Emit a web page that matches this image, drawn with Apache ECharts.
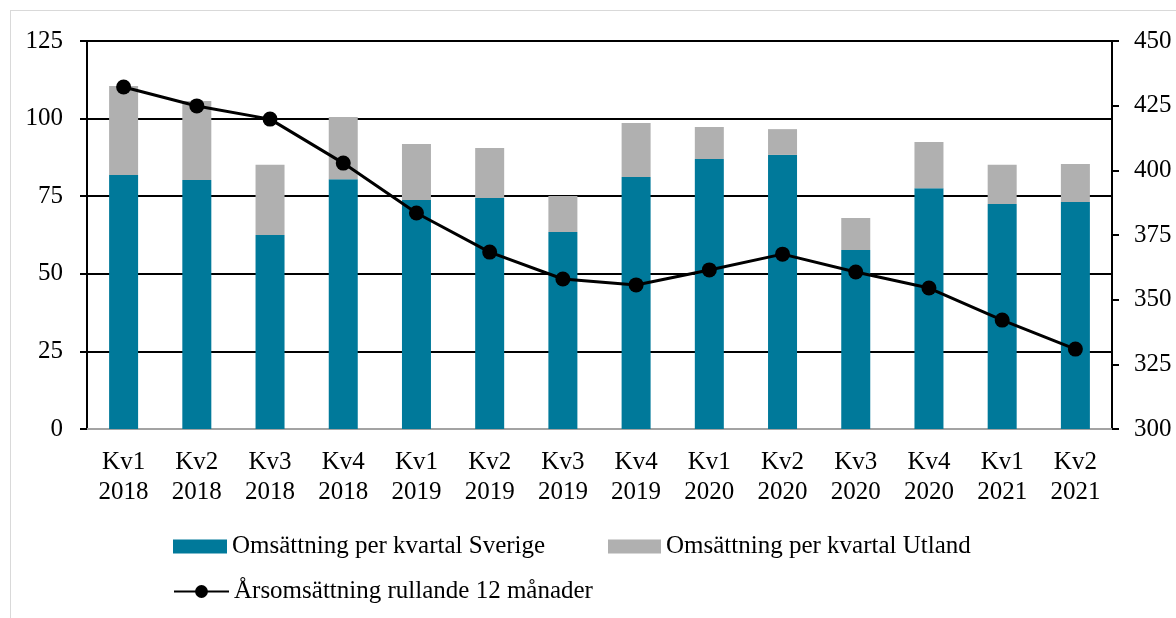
<!DOCTYPE html>
<html><head><meta charset="utf-8">
<script src="https://cdn.jsdelivr.net/npm/echarts@6/dist/echarts.min.js"></script>
<style>html,body{margin:0;padding:0;background:#fff}#c{width:1176px;height:618px}
#frame{position:absolute;left:10px;top:10px;width:1170px;height:620px;border:1.5px solid #d9d9d9;box-sizing:border-box;pointer-events:none}</style>
</head><body><div id="c"></div><div id="frame"></div>
<script>
const categories = ['Kv1\n2018','Kv2\n2018','Kv3\n2018','Kv4\n2018','Kv1\n2019','Kv2\n2019','Kv3\n2019','Kv4\n2019','Kv1\n2020','Kv2\n2020','Kv3\n2020','Kv4\n2020','Kv1\n2021','Kv2\n2021'];
const sverige = [81.8, 80.2, 62.5, 80.5, 73.8, 74.4, 63.5, 81.2, 87.0, 88.3, 57.7, 77.6, 72.5, 73.1];
const utland  = [28.7, 25.5, 22.6, 20.0, 18.0, 16.1, 11.6, 17.4, 10.3, 8.3, 10.3, 14.9, 12.6, 12.3];
const rullande = [432.2, 424.9, 419.8, 402.8, 383.5, 368.4, 358.0, 355.7, 361.5, 367.6, 360.7, 354.5, 342.1, 330.9];
const names = ['Omsättning per kvartal Sverige','Omsättning per kvartal Utland','Årsomsättning rullande 12 månader'];

const FONT = '"Liberation Serif", "DejaVu Serif", serif';
const FS = 25;
const chart = echarts.init(document.getElementById('c'));
const legTxt = {fontFamily: FONT, fontSize: FS, color: '#000'};
chart.setOption({
  animation: false,
  textStyle: {fontFamily: FONT},
  grid: {left: 87, right: 64, top: 41, bottom: 189},
  legend: [
    {data: [{name: names[0], icon: 'rect'}], left: 173, top: 534, itemWidth: 54, itemHeight: 14, textStyle: legTxt, padding: 0},
    {data: [{name: names[1], icon: 'rect'}], left: 608, top: 534, itemWidth: 53, itemHeight: 14, textStyle: legTxt, padding: 0},
    {data: [names[2]], left: 173, top: 579, itemWidth: 55, itemHeight: 16, textStyle: legTxt, padding: 0}
  ],
  xAxis: {
    type: 'category', data: categories,
    axisLine: {lineStyle: {color: '#d9d9d9', width: 1.5}},
    axisTick: {show: false},
    axisLabel: {fontFamily: FONT, fontSize: FS, color: '#000', lineHeight: 30, margin: 18}
  },
  yAxis: [
    {type: 'value', min: 0, max: 125, interval: 25,
     axisLine: {show: true, lineStyle: {color: '#000', width: 2}},
     axisTick: {show: true, length: 7, lineStyle: {color: '#000', width: 2}},
     splitLine: {lineStyle: {color: '#000', width: 2}},
     axisLabel: {fontFamily: FONT, fontSize: FS, color: '#000', margin: 24}},
    {type: 'value', min: 300, max: 450, interval: 25,
     axisLine: {show: true, lineStyle: {color: '#000', width: 2}},
     axisTick: {show: true, length: 7, lineStyle: {color: '#000', width: 2}},
     splitLine: {show: false},
     axisLabel: {fontFamily: FONT, fontSize: FS, color: '#000', margin: 22}}
  ],
  series: [
    {name: names[0], type: 'bar', stack: 'a', data: sverige, barWidth: 29, itemStyle: {color: '#00799a'}},
    {name: names[1], type: 'bar', stack: 'a', data: utland, barWidth: 29, itemStyle: {color: '#b0b0b0'}},
    {name: names[2], type: 'line', yAxisIndex: 1, data: rullande, symbol: 'circle', symbolSize: 15,
     lineStyle: {color: '#000', width: 3}, itemStyle: {color: '#000'}}
  ]
});
</script></body></html>
